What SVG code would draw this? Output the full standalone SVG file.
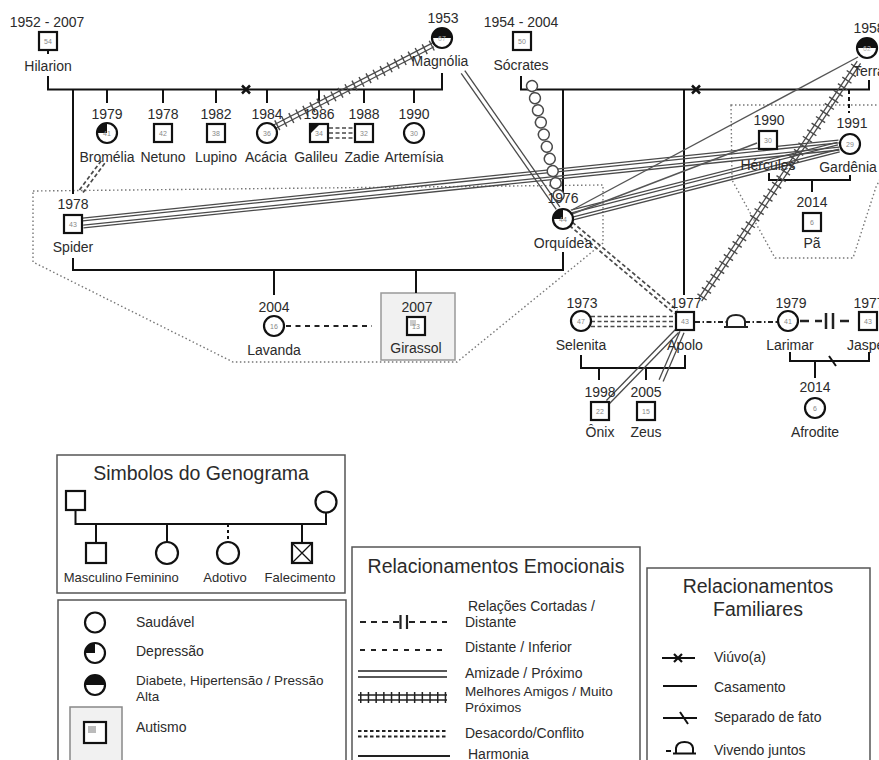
<svg xmlns="http://www.w3.org/2000/svg" width="879" height="760" viewBox="0 0 879 760">
<style>
text{font-family:"Liberation Sans",Arial,sans-serif;fill:#2b2b2b}
.lbl{font-size:14px;text-anchor:middle}
.num{font-size:7px;fill:#888;text-anchor:middle}
.leg{font-size:14px}
.ttl{font-size:19.5px;text-anchor:middle}
.fam{stroke:#111;stroke-width:2;fill:none}
.sym{fill:#fff;stroke:#111;stroke-width:2.2}
.blk{fill:#111;stroke:none}
.emo line{stroke:#4a4a4a;stroke-width:1.3;fill:none}
.emo .tk{stroke-width:11;stroke-dasharray:1.4 6.5}
.emo .dd{stroke-width:1.7;stroke-dasharray:4 2.5}
.emo .sl{stroke:#555;stroke-width:1.4}
.dot{fill:none;stroke:#777;stroke-width:1.4;stroke-dasharray:1.5 2.5}
.box{fill:#fff;stroke:#555;stroke-width:1.5}
</style>
<defs>
<clipPath id="clipCond"><rect x="58" y="600" width="286" height="170"/></clipPath>
<clipPath id="clipEmo"><rect x="352" y="547" width="286" height="220"/></clipPath>
</defs>

<!-- grouping outlines -->
<g id="boundaries">
<polygon class="dot" points="33,191 603,185 603,243 457,362 233,362 33,262"/>
<polygon class="dot" points="731,105 900,105 900,140 876,187 853,258 775,258 732,180"/>
<rect x="381" y="293" width="74" height="67" fill="#f1f1f1" stroke="#999" stroke-width="1.5"/>
</g>

<!-- family connectors -->
<g id="family-lines" class="fam">
<polyline points="48,50 48,54"/>
<polyline points="48,76 48,89.5 442,89.5 442,73"/>
<path d="M242,85.5 l8,8 M250,85.5 l-8,8" stroke-width="2.5"/>
<path d="M73,89.5 V194 M107,89.5 V103 M163,89.5 V103 M216,89.5 V103 M267,89.5 V103 M319,89.5 V103 M364,89.5 V103 M414,89.5 V103"/>
<polyline points="521,76 521,89.5 869,89.5 869,80"/>
<path d="M692,85.5 l8,8 M700,85.5 l-8,8" stroke-width="2.5"/>
<path d="M563,89.5 V192 M684,89.5 V295"/>
<path d="M849,90 V113" stroke-dasharray="4 3"/>
<polyline points="769,173 769,180 850,180 850,175"/>
<path d="M812,180 V192"/>
<polyline points="73,258 73,270 563,270 563,252"/>
<path d="M274,270 V295 M416,270 V293"/>
<polyline points="581,355 581,368 685,368 685,355"/>
<path d="M599,368 V380 M646,368 V380"/>
<polyline points="790,352 790,361 869,361 869,352"/>
<path d="M815,361 V378 M829,356 L836,366"/>
</g>

<!-- emotional connectors -->
<g id="emotional-lines" class="emo">
<g transform="translate(274,127) rotate(-27.28)"><line x1="0" y1="-2" x2="179" y2="-2"/><line x1="0" y1="2" x2="179" y2="2"/><line class="tk" x1="3" y1="0" x2="179" y2="0"/></g>
<g transform="translate(700,300) rotate(-56.25)"><line x1="0" y1="-2" x2="286" y2="-2"/><line x1="0" y1="2" x2="286" y2="2"/><line class="tk" x1="3" y1="0" x2="286" y2="0"/></g>
<g transform="translate(463,72) rotate(55.07)"><line x1="0" y1="-2.2" x2="166" y2="-2.2"/><line x1="0" y1="2.2" x2="166" y2="2.2"/></g>
<g transform="translate(83,223) rotate(-5.89)"><line x1="0" y1="-5" x2="760" y2="-5"/><line x1="0" y1="-2.2" x2="760" y2="-2.2"/><line x1="0" y1="2.2" x2="760" y2="2.2"/><line x1="0" y1="5" x2="760" y2="5"/></g>
<g transform="translate(572,215) rotate(-14.29)"><line x1="0" y1="-5" x2="275" y2="-5"/><line x1="0" y1="-2.2" x2="275" y2="-2.2"/><line x1="0" y1="2.2" x2="275" y2="2.2"/><line x1="0" y1="5" x2="275" y2="5"/></g>
<line class="sl" x1="572" y1="210" x2="858" y2="57"/>
<line class="sl" x1="572" y1="214" x2="757" y2="143"/>
<g transform="translate(532,86) rotate(76.3)" fill="#fff" stroke="#4a4a4a" stroke-width="1.5">
<circle cx="0" cy="0" r="5.5"/><circle cx="12.5" cy="0" r="5.5"/><circle cx="25" cy="0" r="5.5"/><circle cx="37.5" cy="0" r="5.5"/><circle cx="50" cy="0" r="5.5"/><circle cx="62.5" cy="0" r="5.5"/><circle cx="75" cy="0" r="5.5"/><circle cx="87.5" cy="0" r="5.5"/><circle cx="100" cy="0" r="5.5"/><circle cx="112.5" cy="0" r="5.5"/>
</g>
<g transform="translate(103,162) rotate(126.6)"><line class="dd" x1="0" y1="-2.2" x2="38.6" y2="-2.2"/><line class="dd" x1="0" y1="2.2" x2="38.6" y2="2.2"/></g>
<g transform="translate(571,224) rotate(39.97)"><line class="dd" x1="0" y1="-2.2" x2="137" y2="-2.2"/><line class="dd" x1="0" y1="2.2" x2="137" y2="2.2"/></g>
<line class="dd" x1="329" y1="128" x2="354" y2="128"/><line class="dd" x1="329" y1="133" x2="354" y2="133"/><line class="dd" x1="329" y1="138" x2="354" y2="138"/>
<line class="dd" x1="591" y1="316.5" x2="675" y2="316.5"/><line class="dd" x1="591" y1="321.5" x2="675" y2="321.5"/><line class="dd" x1="591" y1="326.5" x2="675" y2="326.5"/>
<line x1="286" y1="326" x2="372" y2="326" style="stroke:#222;stroke-width:2;stroke-dasharray:5 4.5"/>
<g transform="translate(677,331) rotate(134.18)"><line x1="0" y1="-2.2" x2="99" y2="-2.2"/><line x1="0" y1="2.2" x2="99" y2="2.2"/></g>
<g transform="translate(682,332) rotate(113.2)"><line x1="0" y1="-2.2" x2="53" y2="-2.2"/><line x1="0" y1="2.2" x2="53" y2="2.2"/></g>
<line x1="695" y1="322" x2="727" y2="322" style="stroke:#222;stroke-width:1.8;stroke-dasharray:5 2.5 1.5 2.5"/>
<line x1="745" y1="322" x2="778" y2="322" style="stroke:#222;stroke-width:1.8;stroke-dasharray:5 2.5 1.5 2.5"/>
<path d="M724,327 H748 M727,327 V321 Q728,315 736,315 Q744,315 745,321 V327" fill="#fff" stroke="#222" stroke-width="2"/>
<path d="M800,321 H809 M815,321 H822 M840,321 H849" stroke="#222" stroke-width="2.5" fill="none"/>
<path d="M826,313 V329 M833,313 V329" stroke="#222" stroke-width="2.5" fill="none"/>
</g>

<!-- nodes -->
<g id="hilarion"><text class="lbl" x="47" y="27">1952 - 2007</text><rect class="sym" x="39" y="32" width="18" height="18"/><text class="num" x="48" y="43.5">54</text><text class="lbl" x="48" y="71">Hilarion</text></g>
<g id="magnolia"><text class="lbl" x="443" y="23">1953</text><circle class="sym" cx="442" cy="38" r="10"/><path class="blk" d="M432,38 A10,10 0 0 1 452,38 Z"/><text class="num" x="442" y="40.5" style="fill:#bbb">67</text><text class="lbl" x="440" y="66">Magnólia</text></g>
<g id="socrates"><text class="lbl" x="521" y="27">1954 - 2004</text><rect class="sym" x="513" y="32" width="18" height="18"/><text class="num" x="522" y="43.5">50</text><text class="lbl" x="521" y="70">Sócrates</text></g>
<g id="terra"><text class="lbl" x="869" y="33">1958</text><circle class="sym" cx="867" cy="48" r="10"/><path class="blk" d="M857,48 A10,10 0 0 1 877,48 Z"/><text class="num" x="867" y="50.5" style="fill:#bbb">62</text><text class="lbl" x="853" y="76" style="text-anchor:start">Terra</text></g>

<g id="bromelia"><text class="lbl" x="107" y="119">1979</text><circle class="sym" cx="107" cy="133" r="10"/><path class="blk" d="M107,133 L97,133 A10,10 0 0 1 107,123 Z"/><text class="num" x="107" y="135.5">41</text><text class="lbl" x="107" y="162">Bromélia</text></g>
<g id="netuno"><text class="lbl" x="163" y="119">1978</text><rect class="sym" x="154" y="124" width="18" height="18"/><text class="num" x="163" y="135.5">42</text><text class="lbl" x="163" y="162">Netuno</text></g>
<g id="lupino"><text class="lbl" x="216" y="119">1982</text><rect class="sym" x="207" y="124" width="18" height="18"/><text class="num" x="216" y="135.5">38</text><text class="lbl" x="216" y="162">Lupino</text></g>
<g id="acacia"><text class="lbl" x="267" y="119">1984</text><circle class="sym" cx="267" cy="133" r="10"/><text class="num" x="267" y="135.5">36</text><text class="lbl" x="266" y="162">Acácia</text></g>
<g id="galileu"><text class="lbl" x="319" y="119">1986</text><rect class="sym" x="310" y="124" width="18" height="18"/><polygon class="blk" points="310,124 320,124 310,134"/><text class="num" x="319" y="135.5">34</text><text class="lbl" x="316" y="162">Galileu</text></g>
<g id="zadie"><text class="lbl" x="364" y="119">1988</text><rect class="sym" x="355" y="124" width="18" height="18"/><text class="num" x="364" y="135.5">32</text><text class="lbl" x="362" y="162">Zadie</text></g>
<g id="artemisia"><text class="lbl" x="414" y="119">1990</text><circle class="sym" cx="414" cy="133" r="10"/><text class="num" x="414" y="135.5">30</text><text class="lbl" x="414" y="162">Artemísia</text></g>

<g id="spider"><text class="lbl" x="73" y="209">1978</text><rect class="sym" x="64" y="215" width="18" height="18"/><text class="num" x="73" y="226.5">43</text><text class="lbl" x="73" y="252">Spider</text></g>
<g id="orquidea"><text class="lbl" x="563" y="203">1976</text><circle class="sym" cx="563" cy="219" r="10"/><path class="blk" d="M563,219 L553,219 A10,10 0 0 1 563,209 Z"/><text class="num" x="563" y="221.5">44</text><text class="lbl" x="563" y="248">Orquídea</text></g>
<g id="hercules"><text class="lbl" x="769" y="125">1990</text><rect class="sym" x="759" y="131" width="18" height="18"/><text class="num" x="768" y="142.5">30</text><text class="lbl" x="768" y="170">Hércules</text></g>
<g id="gardenia"><text class="lbl" x="852" y="128">1991</text><circle class="sym" cx="850" cy="144" r="10"/><text class="num" x="850" y="146.5">29</text><text class="lbl" x="848" y="172">Gardênia</text></g>
<g id="pa"><text class="lbl" x="812" y="207">2014</text><rect class="sym" x="803" y="213" width="18" height="18"/><text class="num" x="812" y="224.5">6</text><text class="lbl" x="812" y="248">Pã</text></g>

<g id="lavanda"><text class="lbl" x="274" y="312">2004</text><circle class="sym" cx="274" cy="326" r="10"/><text class="num" x="274" y="328.5">16</text><text class="lbl" x="274" y="355">Lavanda</text></g>
<g id="girassol"><text class="lbl" x="417" y="312">2007</text><rect class="sym" x="407" y="317" width="18" height="18"/><rect x="410" y="320" width="6" height="6" fill="#ccc"/><text class="num" x="416" y="328.5">13</text><text class="lbl" x="416" y="353">Girassol</text></g>

<g id="selenita"><text class="lbl" x="582" y="308">1973</text><circle class="sym" cx="581" cy="321" r="10"/><text class="num" x="581" y="323.5">47</text><text class="lbl" x="581" y="350">Selenita</text></g>
<g id="apolo"><text class="lbl" x="686" y="308">1977</text><rect class="sym" x="676" y="312" width="18" height="18"/><text class="num" x="685" y="323.5">43</text><text class="lbl" x="685" y="350">Apolo</text></g>
<g id="onix"><text class="lbl" x="600" y="397">1998</text><rect class="sym" x="591" y="402" width="18" height="18"/><text class="num" x="600" y="413.5">22</text><text class="lbl" x="600" y="437">Ônix</text></g>
<g id="zeus"><text class="lbl" x="646" y="397">2005</text><rect class="sym" x="637" y="402" width="18" height="18"/><text class="num" x="646" y="413.5">15</text><text class="lbl" x="646" y="437">Zeus</text></g>
<g id="larimar"><text class="lbl" x="791" y="308">1979</text><circle class="sym" cx="788" cy="321" r="10"/><text class="num" x="788" y="323.5">41</text><text class="lbl" x="790" y="350">Larimar</text></g>
<g id="jasper"><text class="lbl" x="869" y="308">1977</text><rect class="sym" x="859" y="312" width="18" height="18"/><text class="num" x="868" y="323.5">43</text><text class="lbl" x="868" y="350">Jasper</text></g>
<g id="afrodite"><text class="lbl" x="815" y="392">2014</text><circle class="sym" cx="815" cy="408" r="10"/><text class="num" x="815" y="410.5">6</text><text class="lbl" x="815" y="437">Afrodite</text></g>

<!-- legend: symbols -->
<g id="legend-symbols">
<rect class="box" x="57" y="455" width="288" height="138"/>
<text class="ttl" x="201" y="480">Simbolos do Genograma</text>
<rect class="sym" x="66" y="491" width="19" height="19"/>
<circle class="sym" cx="326" cy="502" r="10.5"/>
<polyline class="fam" points="75.5,510 75.5,524 326,524 326,512.5"/>
<path class="fam" d="M96,524 V542 M167,524 V542 M302,524 V542"/>
<path class="fam" d="M228,524 V542" stroke-dasharray="3 3"/>
<rect class="sym" x="86" y="543" width="20" height="20"/>
<circle class="sym" cx="167" cy="553" r="11"/>
<circle class="sym" cx="228" cy="553" r="11"/>
<rect class="sym" x="292" y="543" width="20" height="20"/>
<path d="M292,543 L312,563 M312,543 L292,563" stroke="#111" stroke-width="1.3"/>
<text class="lbl" style="font-size:13px" x="93" y="582">Masculino</text>
<text class="lbl" style="font-size:13px" x="152" y="582">Feminino</text>
<text class="lbl" style="font-size:13px" x="225" y="582">Adotivo</text>
<text class="lbl" style="font-size:13px" x="300" y="582">Falecimento</text>
</g>

<!-- legend: conditions -->
<g id="legend-conditions">
<rect class="box" x="58" y="600" width="288" height="175"/>
<g clip-path="url(#clipCond)">
<circle class="sym" cx="95" cy="622.5" r="10"/>
<text class="leg" x="136" y="627">Saudável</text>
<circle class="sym" cx="95" cy="653" r="10"/>
<path class="blk" d="M95,653 L85,653 A10,10 0 0 1 95,643 Z"/>
<text class="leg" x="136" y="656">Depressão</text>
<circle class="sym" cx="95" cy="685" r="10"/>
<path class="blk" d="M85,685 A10,10 0 0 1 105,685 Z"/>
<text class="leg" style="font-size:13.5px" x="136" y="685">Diabete, Hipertensão / Pressão</text>
<text class="leg" style="font-size:13.5px" x="136" y="700.5">Alta</text>
<rect x="70" y="707" width="52" height="55" fill="#f1f1f1" stroke="#888" stroke-width="1.5"/>
<rect class="sym" x="84" y="722" width="22" height="21"/>
<rect x="88" y="726" width="8" height="7" fill="#bbb"/>
<text class="leg" x="136" y="732">Autismo</text>
</g>
</g>

<!-- legend: emotional -->
<g id="legend-emotional">
<rect class="box" x="352" y="547" width="288" height="225"/>
<text class="ttl" x="496" y="573">Relacionamentos Emocionais</text>
<g clip-path="url(#clipEmo)">
<path d="M360,622 H399 M409,622 H447" stroke="#222" stroke-width="2" stroke-dasharray="6 5" fill="none"/>
<path d="M400.5,615 V629 M407,615 V629" stroke="#222" stroke-width="2.2" fill="none"/>
<text class="leg" x="468" y="611">Relações Cortadas /</text>
<text class="leg" x="465" y="627">Distante</text>
<line x1="360" y1="650" x2="447" y2="650" stroke="#222" stroke-width="2" stroke-dasharray="5 6"/>
<text class="leg" x="465" y="652">Distante / Inferior</text>
<path d="M358,671 H447 M358,677 H447" stroke="#222" stroke-width="1.7" fill="none"/>
<text class="leg" x="465" y="678">Amizade / Próximo</text>
<path d="M358,695 H447 M358,700 H447" stroke="#222" stroke-width="1.6" fill="none"/>
<line x1="360" y1="697.5" x2="447" y2="697.5" stroke="#222" stroke-width="11" stroke-dasharray="1.5 6.2"/>
<text class="leg" style="font-size:13.5px" x="465" y="696">Melhores Amigos / Muito</text>
<text class="leg" style="font-size:13.5px" x="465" y="712">Próximos</text>
<path d="M358,731 H447 M358,736.5 H447" stroke="#222" stroke-width="1.8" stroke-dasharray="3.5 2.5" fill="none"/>
<text class="leg" x="465" y="738">Desacordo/Conflito</text>
<line x1="358" y1="756" x2="450" y2="756" stroke="#222" stroke-width="2"/>
<text class="leg" x="468" y="759">Harmonia</text>
</g>
</g>

<!-- legend: family -->
<g id="legend-family">
<rect class="box" x="647" y="568" width="223" height="200"/>
<text class="ttl" x="758" y="593">Relacionamentos</text>
<text class="ttl" x="758" y="616">Familiares</text>
<path d="M662,658 H695 M674,654 L682,662 M682,654 L674,662" stroke="#111" stroke-width="2.2" fill="none"/>
<text class="leg" x="714" y="662">Viúvo(a)</text>
<line x1="663" y1="686" x2="697" y2="686" stroke="#111" stroke-width="2"/>
<text class="leg" x="714" y="692">Casamento</text>
<path d="M663,718 H697 M680,712 L688,724" stroke="#111" stroke-width="2" fill="none"/>
<text class="leg" x="714" y="722">Separado de fato</text>
<path d="M666,751 H671 M673,753.5 H696 M676,753.5 V748 Q677,742 684.5,742 Q692,742 693,748 V753.5" stroke="#111" stroke-width="2" fill="#fff"/>
<text class="leg" x="714" y="755">Vivendo juntos</text>
</g>
</svg>
